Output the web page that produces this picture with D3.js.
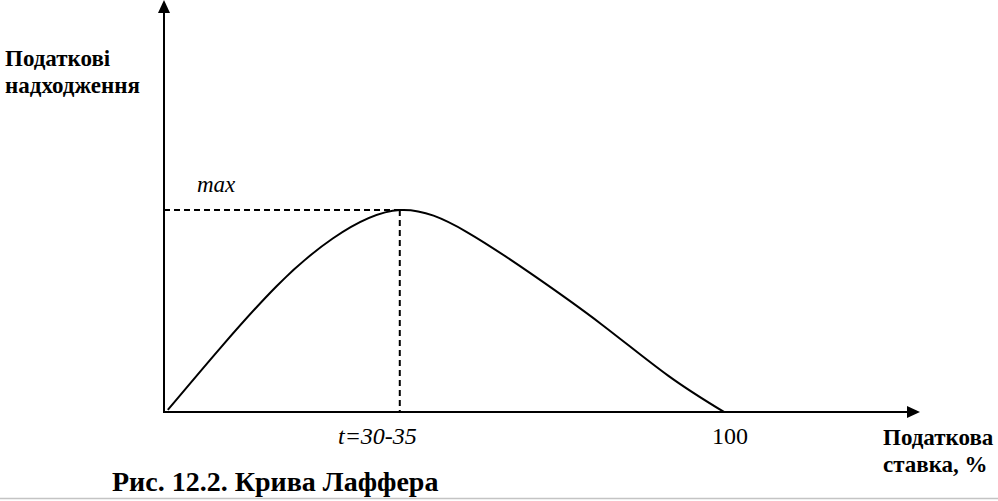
<!DOCTYPE html>
<html>
<head>
<meta charset="utf-8">
<script src="https://cdn.jsdelivr.net/npm/d3@7"></script>
<style>
  body { margin: 0; background: white; }
  svg { display: block; }
</style>
</head>
<body>
<div id="vis"></div>
<script>
// tax rate (%) and tax revenue (% of max)
let rate = [0.5, 10, 20, 30, 42, 54, 66, 78, 90, 100];
let revenue = [1, 32, 62.4, 85.9, 100, 89.1, 67.5, 43.6, 18, 0];
let peakRate = 42;
let yLabel = ['Податкові', 'надходження'];
let xLabel = ['Податкова', 'ставка, %'];
let peakTick = 't=30-35';
let endTick = '100';
let maxLabel = 'max';
let caption = 'Рис. 12.2. Крива Лаффера';

let width = 998, height = 501;
let serif = '"Liberation Serif", "Times New Roman", "DejaVu Serif", serif';

let svg = d3.select('#vis')
  .append('svg')
  .attr('width', width)
  .attr('height', height)
  .style('background-color', 'white');

let x = d3.scaleLinear().domain([0, 100]).range([165, 724]);
let y = d3.scaleLinear().domain([0, 100]).range([412, 210]);

let axisX0 = 164, axisY0 = 412;

// y axis with arrow
svg.append('line')
  .attr('x1', axisX0).attr('y1', axisY0 + 1)
  .attr('x2', axisX0).attr('y2', 10)
  .attr('stroke', 'black').attr('stroke-width', 2);
svg.append('path')
  .attr('d', `M${axisX0},0 L${axisX0 - 6},13 L${axisX0 + 6},13 Z`)
  .attr('fill', 'black');

// x axis with arrow
svg.append('line')
  .attr('x1', axisX0 - 1).attr('y1', axisY0)
  .attr('x2', 910).attr('y2', axisY0)
  .attr('stroke', 'black').attr('stroke-width', 2);
svg.append('path')
  .attr('d', `M920,${axisY0} L907,${axisY0 - 6} L907,${axisY0 + 6} Z`)
  .attr('fill', 'black');

// dashed guides to the maximum
svg.append('line')
  .attr('x1', axisX0).attr('y1', y(100))
  .attr('x2', x(peakRate)).attr('y2', y(100))
  .attr('stroke', 'black').attr('stroke-width', 2)
  .attr('stroke-dasharray', '6,4');
svg.append('line')
  .attr('x1', x(peakRate)).attr('y1', y(100))
  .attr('x2', x(peakRate)).attr('y2', axisY0)
  .attr('stroke', 'black').attr('stroke-width', 2)
  .attr('stroke-dasharray', '6,4');

// Laffer curve
let line = d3.line()
  .x((d, i) => x(rate[i]))
  .y((d, i) => y(revenue[i]))
  .curve(d3.curveNatural);

svg.append('path')
  .datum(rate)
  .attr('d', line)
  .attr('fill', 'none')
  .attr('stroke', 'black')
  .attr('stroke-width', 2);

// labels
svg.append('text')
  .attr('x', 5).attr('y', 66)
  .attr('font-family', serif)
  .style('font-size', '23px').style('font-weight', 'bold')
  .selectAll('tspan').data(yLabel).enter().append('tspan')
  .attr('x', 5).attr('dy', (d, i) => i ? 27 : 0)
  .text(d => d);

svg.append('text')
  .attr('x', 883).attr('y', 445)
  .attr('font-family', serif)
  .style('font-size', '23px').style('font-weight', 'bold')
  .selectAll('tspan').data(xLabel).enter().append('tspan')
  .attr('x', 883).attr('dy', (d, i) => i ? 27 : 0)
  .text(d => d);

svg.append('text')
  .attr('x', 197).attr('y', 192)
  .attr('font-family', serif)
  .style('font-size', '23px').style('font-style', 'italic')
  .text(maxLabel);

svg.append('text')
  .attr('x', 338).attr('y', 444)
  .attr('font-family', serif)
  .style('font-size', '24px').style('font-style', 'italic')
  .text(peakTick);

svg.append('text')
  .attr('x', 712).attr('y', 444)
  .attr('font-family', serif)
  .style('font-size', '24px')
  .text(endTick);

svg.append('text')
  .attr('x', 112).attr('y', 491)
  .attr('font-family', serif)
  .style('font-size', '28px').style('font-weight', 'bold')
  .text(caption);

// grey rule at the bottom
svg.append('line')
  .attr('x1', 0).attr('y1', 498.5)
  .attr('x2', width).attr('y2', 498.5)
  .attr('stroke', '#c4c4c4').attr('stroke-width', 1.5);
</script>
</body>
</html>
